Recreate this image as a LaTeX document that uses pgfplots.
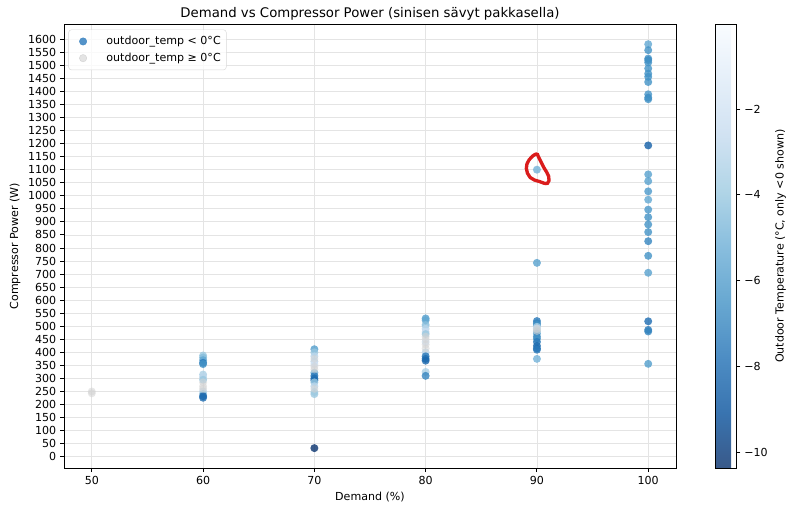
\documentclass[border=0pt]{standalone}
\usepackage{fontspec}
\setmainfont{DejaVu Sans}
\usepackage{pgfplots}
\usepackage{pgfplotstable}
\pgfplotsset{compat=1.18}

\definecolor{legblue}{RGB}{66,136,196}
\definecolor{warmgray}{RGB}{211,211,211}
\definecolor{gridgray}{RGB}{228,228,228}
\definecolor{loopred}{RGB}{218,28,28}

% Blues reversed (cold = dark)
\pgfplotsset{
  colormap={bluesr}{rgb255=(8,48,107) rgb255=(8,81,156) rgb255=(33,113,181)
    rgb255=(66,146,198) rgb255=(107,174,214) rgb255=(158,202,225)
    rgb255=(198,219,239) rgb255=(222,235,247) rgb255=(247,251,255)},
  colormap={bluesbar}{rgb255=(57,89,137) rgb255=(57,116,176) rgb255=(77,141,196)
    rgb255=(104,168,209) rgb255=(137,190,222) rgb255=(177,213,231)
    rgb255=(209,226,242) rgb255=(229,239,249) rgb255=(249,252,255)},
}

% outdoor_temp < 0
\pgfplotstableread{
x y t
100 1581 -5.5
100 1558 -6.5
100 1526 -6.5
100 1520 -6.8
100 1511 -6.5
100 1488 -6.5
100 1468 -6.5
100 1456 -6.5
100 1436 -6.5
100 1389 -6.3
100 1376 -6.8
100 1370 -6.5
100 1193 -8.5
100 1082 -5.8
100 1056 -5.8
100 1017 -6.2
100 985 -5.5
100 947 -6.2
100 918 -6.5
100 890 -6.5
100 861 -6.5
100 826 -7.0
100 770 -6.5
100 705 -5.8
100 519 -8.0
100 486 -7.5
100 480 -7.0
100 356 -6.0
90 1100 -5.0
90 743 -5.8
90 520 -7.5
90 512 -7.0
90 505 -6.5
90 498 -3.5
90 492 -2.5
90 486 -3.0
90 480 -4.0
90 472 -5.5
90 460 -7.0
90 452 -6.5
90 440 -7.5
90 425 -8.0
90 415 -8.0
90 410 -7.5
90 375 -5.0
80 530 -6.0
80 523 -5.5
80 505 -4.5
80 490 -3.0
80 478 -2.5
80 470 -4.0
80 440 -2.0
80 400 -3.0
80 385 -7.5
80 375 -8.0
80 368 -8.2
80 325 -3.5
80 310 -7.0
70 412 -6.0
70 400 -4.0
70 385 -3.0
70 365 -3.0
70 355 -2.0
70 322 -5.0
70 310 -7.5
70 300 -8.0
70 293 -8.0
70 285 -4.0
70 270 -3.0
70 248 -3.5
70 240 -4.0
70 33 -10.3
60 388 -4.0
60 380 -4.5
60 370 -5.5
60 360 -7.5
60 355 -6.5
60 315 -3.5
60 305 -3.0
60 295 -4.0
60 250 -3.0
60 240 -4.5
60 232 -8.5
60 226 -8.0
}\coldpts

% outdoor_temp >= 0
\pgfplotstableread{
x y
50 250
50 243
60 285
60 270
60 260
70 375
70 345
70 335
70 260
80 460
80 450
80 430
80 415
90 490
90 482
}\warmpts

\begin{document}
\begin{tikzpicture}
% page = whole figure, axis frame from (0,0) to (551bp,400bp)
\useasboundingbox (-57.6bp,-45.9bp) rectangle (660.8bp,421.6bp);
\begin{axis}[
  at={(0,0)}, anchor=south west,
  scale only axis, width=551bp, height=400bp,
  xmin=47.5, xmax=102.5, ymin=-44.4, ymax=1658.4,
  xtick={50,60,...,100}, ytick={0,50,...,1600},
  xtick pos=left, ytick pos=left,
  grid=major, grid style={gridgray, line width=0.7bp},
  tick align=outside, major tick length=3.5bp,
  tick style={black, line width=0.8bp},
  axis line style={line width=0.8bp},
  font=\fontsize{10}{12}\selectfont,
  /pgf/number format/assume math mode=true,
  /pgf/number format/1000 sep={},
  title={Demand vs Compressor Power (sinisen sävyt pakkasella)},
  title style={font=\fontsize{12}{14}\selectfont, yshift=-6bp},
  xlabel={Demand (\%)}, ylabel={Compressor Power (W)},
  colormap name=bluesr,
  point meta min=-10.37, point meta max=-0.02,
  colorbar,
  colorbar style={
    colormap name=bluesbar,
    scale only axis, width=19bp, height=400bp,
    at={(parent axis.north east)}, anchor=north west, xshift=27bp,
    ytick={-10,-8,-6,-4,-2},
    yticklabels={−10,−8,−6,−4,−2},
    ytick pos=right,
    font=\fontsize{10}{12}\selectfont,
    tick align=outside, major tick length=3.5bp,
    tick style={black, line width=0.8bp},
    axis line style={line width=0.8bp},
    ylabel={Outdoor Temperature (°C, only <0 shown)},
  },
  legend cell align=left,
  legend style={at={(0,1)}, anchor=north west, xshift=4bp, yshift=-5bp,
    draw=gray!30, rounded corners=2.5bp, fill=white, fill opacity=0.8,
    text opacity=1, font=\fontsize{10}{12}\selectfont, row sep=2bp,
    column sep=9bp, inner xsep=3bp, inner ysep=4bp},
]
\addlegendimage{legend image code/.code={
  \path[draw=none] (0bp,0bp) -- (20bp,0bp);
  \fill[legblue, fill opacity=0.9] (10bp,0bp) circle (3.3bp);}}
\addlegendentry{outdoor\_temp < 0°C}
\addlegendimage{legend image code/.code={
  \path[draw=none] (0bp,0bp) -- (20bp,0bp);
  \fill[warmgray, fill opacity=0.6] (10bp,0bp) circle (3.3bp);}}
\addlegendentry{outdoor\_temp ≥ 0°C}

\addplot[scatter, only marks, mark=*, mark size=3.6bp, scatter src=explicit,
  scatter/use mapped color={draw=mapped color, draw opacity=0,
    fill=mapped color, fill opacity=0.8},
  forget plot] table[x=x, y=y, meta=t]{\coldpts};

\addplot[only marks, mark=*, mark size=3.6bp,
  mark options={draw=warmgray, draw opacity=0, fill=warmgray, fill opacity=0.55},
  forget plot] table[x=x, y=y]{\warmpts};

% hand-drawn red loop around the 90 % / 1100 W point
\draw[loopred, line width=3bp, line cap=round]
  plot[smooth cycle, tension=0.7] coordinates {
    (axis cs:89.93,1160) (axis cs:89.3,1138) (axis cs:89.05,1105)
    (axis cs:89.4,1070) (axis cs:90.2,1055) (axis cs:90.95,1048)
    (axis cs:91.05,1075) (axis cs:90.6,1110) (axis cs:90.15,1148)};
\end{axis}
\end{tikzpicture}
\end{document}
